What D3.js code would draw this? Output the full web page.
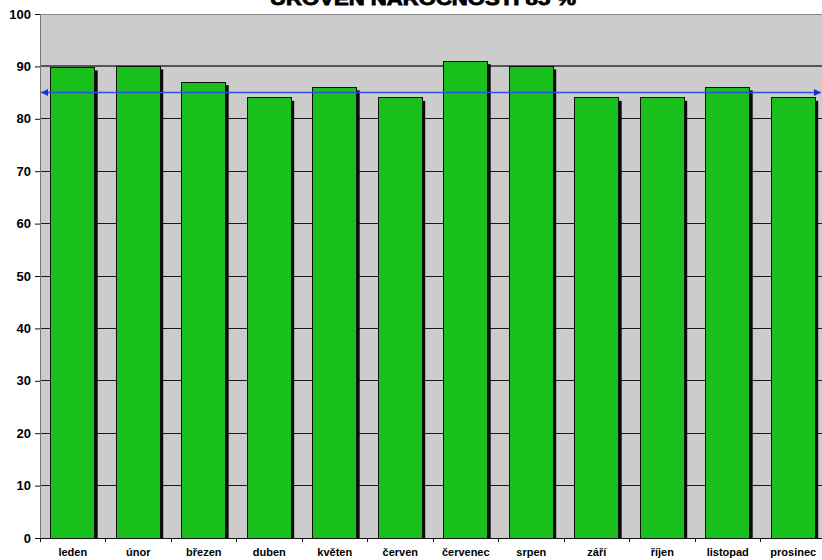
<!DOCTYPE html>
<html>
<head>
<meta charset="utf-8">
<script src="https://cdn.jsdelivr.net/npm/d3@7"></script>
<style>
  body { margin: 0; background: #fff; }
  svg { display: block; font-family: Arial, "Liberation Sans", sans-serif; }
</style>
</head>
<body>
<svg id="chart" width="822" height="560"></svg>
<script>
// Monthly values
const months = ["leden", "únor", "březen", "duben", "květen", "červen",
                "červenec", "srpen", "září", "říjen", "listopad", "prosinec"];
const values = [89.8, 90, 87, 84, 86, 84, 91, 90, 84, 84, 86, 84];
const target = 85;
const yTicks = [0, 10, 20, 30, 40, 50, 60, 70, 80, 90, 100];
const title = "ÚROVEŇ NÁROČNOSTI 85 %";

const svg = d3.select("#chart");
const plotLeft = 40, plotRight = 826, plotTop = 14, plotBottom = 538;

const x = d3.scaleBand().domain(months).range([plotLeft, plotRight])
  .paddingInner(0.33).paddingOuter(0.165);
const y = d3.scaleLinear().domain([0, 100]).range([plotBottom, plotTop]);

// arrow markers for the target line
const defs = svg.append("defs");
defs.append("marker").attr("id", "arrEnd").attr("viewBox", "0 0 10 10")
  .attr("refX", 10).attr("refY", 5).attr("markerWidth", 7).attr("markerHeight", 8)
  .attr("markerUnits", "userSpaceOnUse").attr("orient", "auto")
  .append("path").attr("d", "M0,0L10,5L0,10Z").attr("fill", "#1030e0");
defs.append("marker").attr("id", "arrStart").attr("viewBox", "0 0 10 10")
  .attr("refX", 0).attr("refY", 5).attr("markerWidth", 7).attr("markerHeight", 8)
  .attr("markerUnits", "userSpaceOnUse").attr("orient", "auto")
  .append("path").attr("d", "M10,0L0,5L10,10Z").attr("fill", "#1030e0");

// plot background
svg.append("rect").attr("x", plotLeft).attr("y", plotTop)
  .attr("width", 822 - plotLeft).attr("height", plotBottom - plotTop).attr("fill", "#cccccc");

// horizontal gridlines
svg.append("g").selectAll("line").data(yTicks.filter(d => d > 0)).join("line")
  .attr("x1", plotLeft).attr("x2", 822)
  .attr("y1", d => y(d)).attr("y2", d => y(d))
  .attr("stroke", d => d === 90 ? "#555" : (d === 100 ? "#888" : "#1a1a1a"))
  .attr("stroke-width", d => d === 90 ? 2 : 1)
  .attr("shape-rendering", "crispEdges");

// bar shadows
svg.append("g").selectAll("rect").data(values).join("rect")
  .attr("x", (d, i) => x(months[i]) + 3)
  .attr("y", d => y(d) + 3)
  .attr("width", x.bandwidth())
  .attr("height", d => plotBottom - y(d) - 3)
  .attr("fill", "#0a0a0a");

// bars
svg.append("g").selectAll("rect").data(values).join("rect")
  .attr("x", (d, i) => x(months[i]))
  .attr("y", d => y(d))
  .attr("width", x.bandwidth())
  .attr("height", d => plotBottom - y(d))
  .attr("fill", "#19bf1b")
  .attr("stroke", "#111")
  .attr("stroke-width", 1)
  .attr("shape-rendering", "crispEdges");

// target line
svg.append("line")
  .attr("x1", plotLeft + 1).attr("x2", 821)
  .attr("y1", y(target)).attr("y2", y(target))
  .attr("stroke", "#2a50e8").attr("stroke-width", 1.5)
  .attr("marker-start", "url(#arrStart)").attr("marker-end", "url(#arrEnd)");

// y axis
const yAxis = svg.append("g").attr("transform", `translate(${plotLeft},0)`)
  .call(d3.axisLeft(y).tickValues(yTicks).tickSize(5).tickPadding(4));
yAxis.select(".domain").attr("stroke", "#777");
yAxis.selectAll(".tick line").attr("stroke", "#111");
yAxis.selectAll("text").attr("font-size", 13).attr("font-weight", "bold")
  .attr("fill", "#000").attr("font-family", "Arial, 'Liberation Sans', sans-serif");

// x axis
const xAxis = svg.append("g").attr("transform", `translate(0,${plotBottom})`)
  .call(d3.axisBottom(x).tickSize(0).tickPadding(10));
xAxis.select(".domain").attr("d", `M${plotLeft},0.5H822`).attr("stroke", "#111");
xAxis.selectAll("text").attr("font-size", 11).attr("font-weight", "bold")
  .attr("fill", "#000").attr("font-family", "Arial, 'Liberation Sans', sans-serif");
// category separators below the axis
const step = x.step();
const seps = d3.range(0, 13).map(i => plotLeft + i * step);
xAxis.append("g").selectAll("line").data(seps).join("line")
  .attr("x1", d => d).attr("x2", d => d).attr("y1", 0).attr("y2", 4)
  .attr("stroke", "#111").attr("shape-rendering", "crispEdges");

// title (heavy, wide lettering)
svg.append("text").attr("x", 423).attr("y", 5).attr("text-anchor", "middle")
  .attr("font-size", 19).attr("font-weight", 900)
  .attr("font-family", "'Arial Black', Arial, 'Liberation Sans', sans-serif")
  .attr("textLength", 306).attr("lengthAdjust", "spacingAndGlyphs")
  .attr("stroke", "#000").attr("stroke-width", 0.9)
  .text(title);
</script>
</body>
</html>
